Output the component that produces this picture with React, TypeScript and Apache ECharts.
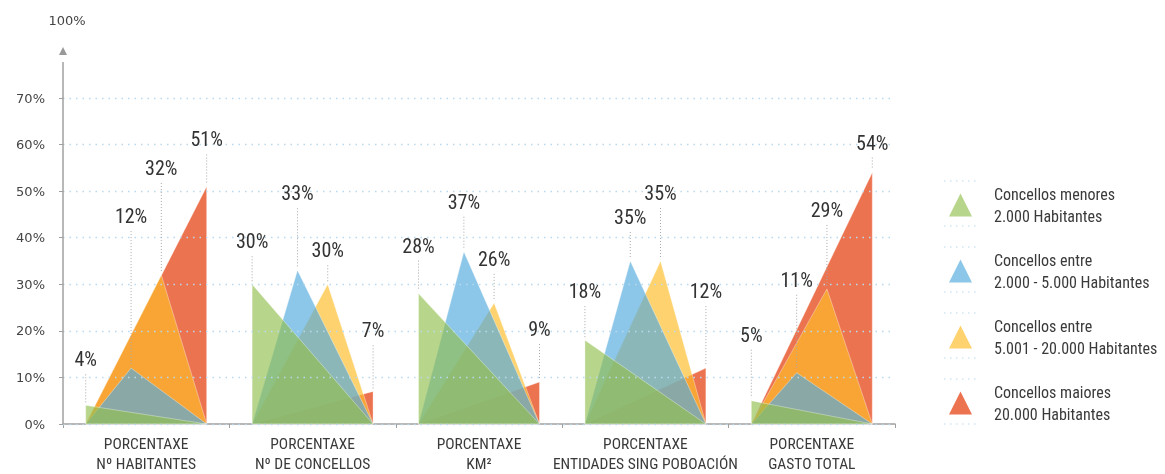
import React, { useEffect, useRef } from "react";
import * as echarts from "echarts";

const CATEGORIES = [
  "PORCENTAXE\nNº HABITANTES",
  "PORCENTAXE\nNº DE CONCELLOS",
  "PORCENTAXE\nKM²",
  "PORCENTAXE\nENTIDADES SING POBOACIÓN",
  "PORCENTAXE\nGASTO TOTAL",
];
const SERIES_NAMES = [
  "Concellos menores\n2.000 Habitantes",
  "Concellos entre\n2.000 - 5.000 Habitantes",
  "Concellos entre\n5.001 - 20.000 Habitantes",
  "Concellos maiores\n20.000 Habitantes",
];
const MENORES = [4, 30, 28, 18, 5];
const ENTRE_2_5 = [12, 33, 37, 35, 11];
const ENTRE_5_20 = [32, 30, 26, 35, 29];
const MAIORES = [51, 7, 9, 12, 54];
const SERIES_VALUES = [MENORES, ENTRE_2_5, ENTRE_5_20, MAIORES];
const Y_TICKS = [0, 10, 20, 30, 40, 50, 60, 70];

// layout / style (not data)
const COLORS = [
  "rgba(146,191,78,0.65)",
  "rgba(83,170,221,0.67)",
  "rgba(253,189,42,0.68)",
  "rgba(236,115,80,1)",
];
const APEX_FRAC = [0, 0.375, 0.625, 1];
const HALF_BAND = 0.3635;
const Z_ORDER = [5, 4, 3, 2];
// label lift above apex, px  [series][group]
const LABEL_LIFT = [
  [46, 43, 48, 49, 66],
  [152, 77, 50, 44, 93],
  [107, 34, 44, 68, 79],
  [47, 61, 53, 77, 30],
];

const NARROW =
  "'Roboto Condensed', 'Liberation Sans Narrow', 'DejaVu Sans Condensed', sans-serif";
const GRID = { left: 63, right: 270, top: 98, bottom: 47 };

function apexGeom(api: any, g: number, s: number, v: number) {
  const base = api.coord([g, 0]);
  const top = api.coord([g, v]);
  const band = api.size([1, 0])[0];
  const half = band * HALF_BAND;
  const left = base[0] - half;
  const right = base[0] + half;
  const ax = left + APEX_FRAC[s] * (right - left);
  return { left, right, ax, baseY: base[1], topY: top[1] };
}

export default function App() {
  const ref = useRef<HTMLDivElement>(null);
  useEffect(() => {
    document.body.style.margin = "0";
    const chart = echarts.init(ref.current!, null, { renderer: "svg" });

    const triSeries = SERIES_VALUES.map((vals, s) => ({
      type: "custom",
      name: SERIES_NAMES[s],
      z: Z_ORDER[s],
      itemStyle: { color: COLORS[s] },
      encode: { x: 0, y: 1 },
      data: vals.map((v, g) => [g, v]),
      renderItem: (params: any, api: any) => {
        const g = api.value(0);
        const v = api.value(1);
        const p = apexGeom(api, g, s, v);
        return {
          type: "polygon",
          shape: {
            points: [
              [p.left, p.baseY],
              [p.ax, p.topY],
              [p.right, p.baseY],
            ],
          },
          style: {
            fill: api.visual("color"),
            stroke: "rgba(255,255,255,0.45)",
            lineWidth: 0.8,
          },
        };
      },
    }));

    const labelData: number[][] = [];
    SERIES_VALUES.forEach((vals, s) =>
      vals.forEach((v, g) => labelData.push([g, s, v, LABEL_LIFT[s][g]]))
    );

    const labelSeries = {
      type: "custom",
      name: "labels",
      z: 20,
      silent: true,
      encode: { x: 0, y: 2 },
      data: labelData,
      renderItem: (params: any, api: any) => {
        const g = api.value(0);
        const s = api.value(1);
        const v = api.value(2);
        const lift = api.value(3);
        const p = apexGeom(api, g, s, v);
        const ly = p.topY - lift;
        return {
          type: "group",
          children: [
            {
              type: "line",
              shape: { x1: p.ax, y1: ly + 15, x2: p.ax, y2: p.topY - 3 },
              style: { stroke: "#a8a8a8", lineWidth: 1, lineDash: [1, 2] },
            },
            {
              type: "text",
              style: {
                x: p.ax,
                y: ly,
                text: v + "%",
                align: "center",
                verticalAlign: "middle",
                fontSize: 20,
                fontFamily: NARROW,
                fill: "#333",
              },
            },
          ],
        };
      },
    };

    const legendSeps: any[] = [];
    for (let i = 0; i < 4; i++) {
      [181 + 66 * i, 226 + 66 * i].forEach((y) =>
        legendSeps.push({
          type: "line",
          shape: { x1: 944, y1: y, x2: 978, y2: y },
          style: { stroke: "#b9d9ee", lineWidth: 1.2, lineDash: [1.5, 4.5] },
        })
      );
    }

    chart.setOption({
      animation: false,
      grid: GRID,
      xAxis: {
        type: "category",
        data: CATEGORIES,
        boundaryGap: true,
        axisLine: { show: true, lineStyle: { color: "#a0a0a0", width: 1.5 } },
        axisTick: { show: true, length: 4, lineStyle: { color: "#a0a0a0" } },
        axisLabel: {
          color: "#3a3a3a",
          fontSize: 15.5,
          fontFamily: NARROW,
          lineHeight: 20,
          margin: 10,
          interval: 0,
        },
        splitLine: { show: false },
      },
      yAxis: {
        type: "value",
        min: Y_TICKS[0],
        max: Y_TICKS[Y_TICKS.length - 1],
        interval: Y_TICKS[1] - Y_TICKS[0],
        z: 8,
        axisLine: { show: true, lineStyle: { color: "#a0a0a0", width: 1.5 } },
        axisTick: { show: true, length: 4, lineStyle: { color: "#a0a0a0" } },
        axisLabel: {
          formatter: (v: number) => v + "%",
          color: "#444",
          fontSize: 13,
          fontFamily: "'DejaVu Sans', sans-serif",
          margin: 18,
        },
        splitLine: {
          show: true,
          lineStyle: { color: "#b9d9ee", width: 1.3, type: [1.5, 5] },
        },
      },
      legend: {
        data: SERIES_NAMES,
        orient: "vertical",
        left: 949,
        top: 183,
        padding: 0,
        icon: "triangle",
        itemWidth: 23,
        itemHeight: 23,
        itemGap: 22,
        selectedMode: false,
        textStyle: {
          fontSize: 16,
          lineHeight: 22,
          fontFamily: NARROW,
          color: "#3a3a3a",
          padding: [0, 0, 0, 17],
        },
      },
      graphic: [
        {
          type: "line",
          shape: { x1: 63, y1: 98, x2: 63, y2: 62 },
          style: { stroke: "#a0a0a0", lineWidth: 1.5 },
        },
        {
          type: "polygon",
          shape: { points: [[59, 55], [63, 47], [67, 55]] },
          style: { fill: "#999" },
        },
        {
          type: "text",
          x: 67,
          y: 20,
          style: {
            text: "100%",
            align: "center",
            verticalAlign: "middle",
            fontSize: 13,
            fontFamily: "'DejaVu Sans', sans-serif",
            fill: "#444",
          },
        },
        ...legendSeps,
      ],
      series: [...triSeries, labelSeries],
    });
    return () => chart.dispose();
  }, []);
  return (
    <div
      ref={ref}
      style={{ position: "fixed", left: 0, top: 0, width: 1165, height: 474 }}
    />
  );
}
